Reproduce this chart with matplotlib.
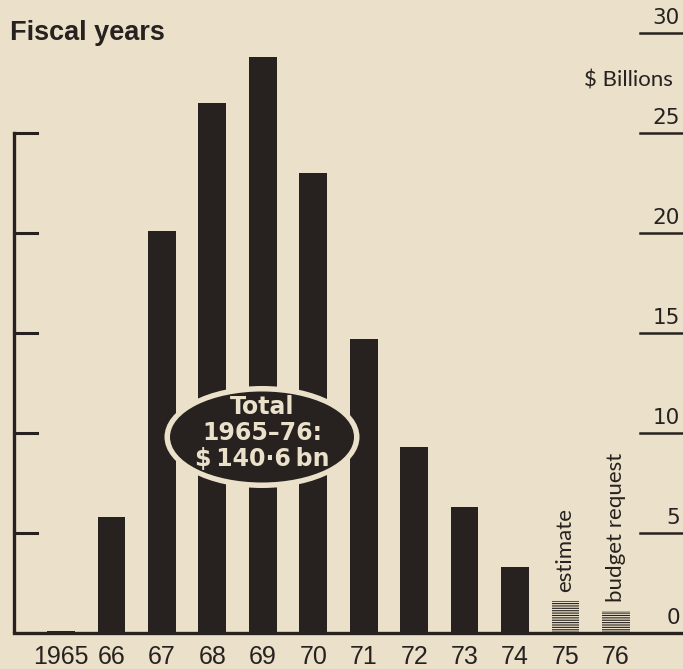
import matplotlib
matplotlib.use('Agg')
import matplotlib.pyplot as plt
from matplotlib.patches import Ellipse

# Fiscal year spending, $ billions
years = ['1965', '66', '67', '68', '69', '70', '71', '72', '73', '74', '75', '76']
spend = [0.1, 5.8, 20.1, 26.5, 28.8, 23.0, 14.7, 9.3, 6.3, 3.3, 1.6, 1.1]
is_projected = [False] * 10 + [True, True]
proj_labels = ['estimate', 'budget request']
left_ticks = [5, 10, 15, 20, 25]
right_ticks = [0, 5, 10, 15, 20, 25, 30]

paper = '#ebe1cb'
ink = '#27221f'

plt.rcParams['font.family'] = ['Liberation Sans', 'DejaVu Sans']
plt.rcParams['hatch.linewidth'] = 0.8
plt.rcParams['hatch.color'] = ink

fig = plt.figure(figsize=(6.83, 6.69), dpi=100)
fig.patch.set_facecolor(paper)
# axes: y=0 sits 36px from bottom, 20px per $bn
ax = fig.add_axes([0, 36 / 669, 1, 633 / 669])
ax.set_facecolor(paper)
ax.set_ylim(0, 633 / 20)
step = 50.45
ax.set_xlim(-61 / step, (683 - 61) / step)
ax.axis('off')

xs = list(range(len(years)))
for x, v, proj in zip(xs, spend, is_projected):
    if proj:
        ax.bar(x, v, width=0.55, color=paper, edgecolor=ink, linewidth=0,
               hatch='-------', zorder=2)
    else:
        ax.bar(x, v, width=0.55, color=ink, edgecolor='none', zorder=2)

# labels above the projected bars
for x, v, lab in zip(xs[-2:], spend[-2:], proj_labels):
    ax.text(x, v + 0.45, lab, rotation=90, ha='center', va='bottom',
            fontsize=16, color=ink, family='Lato')

# baseline and left axis
x_left = (14 - 61) / step
x_tick = (37 - 61) / step
ax.plot([x_left, ax.get_xlim()[1]], [0, 0], color=ink, lw=2.4, zorder=3, clip_on=False)
ax.plot([x_left, x_left], [0, max(left_ticks)], color=ink, lw=2.4, zorder=3)
for t in left_ticks:
    ax.plot([x_left, x_tick], [t, t], color=ink, lw=2.2, zorder=3)

# right-hand scale with underlined numbers
x_r0 = (640 - 61) / step
x_r1 = ax.get_xlim()[1]
for t in right_ticks:
    if t > 0:
        ax.plot([x_r0, x_r1], [t, t], color=ink, lw=1.8, clip_on=False)
    ax.text((680 - 61) / step, t + 0.25, str(t), ha='right', va='bottom',
            fontsize=15.5, color=ink, family='DejaVu Sans')
ax.text((673 - 61) / step, 27.6, '$ Billions', ha='right', va='center',
        fontsize=16, color=ink, family='Lato')

# year labels
for x, lab in zip(xs, years):
    ax.text(x, -0.6, lab, ha='center', va='top', fontsize=18, color=ink)

fig.text(10 / 683, 1 - 33 / 669, 'Fiscal years', ha='left', va='center',
         fontsize=19.5, fontweight='bold', color=ink)

# total callout: black oval with a paper-coloured rim
cx, cy = (262 - 61) / step, (633 - 437) / 20
w, h = 195 / step, 102 / 20
ax.add_patch(Ellipse((cx, cy), w, h, facecolor=paper, edgecolor='none', zorder=5))
ax.add_patch(Ellipse((cx, cy), w - 11 / step, h - 11 / 20, facecolor=ink, edgecolor='none', zorder=6))
ax.text(cx, cy + 0.2, 'Total\n1965–76:\n$\u2009140·6\u2009bn', ha='center', va='center',
        fontsize=17, fontweight='bold', color=paper, linespacing=1.12,
        family='DejaVu Sans', zorder=7)

fig.savefig('out.png', dpi=100, facecolor=paper)
